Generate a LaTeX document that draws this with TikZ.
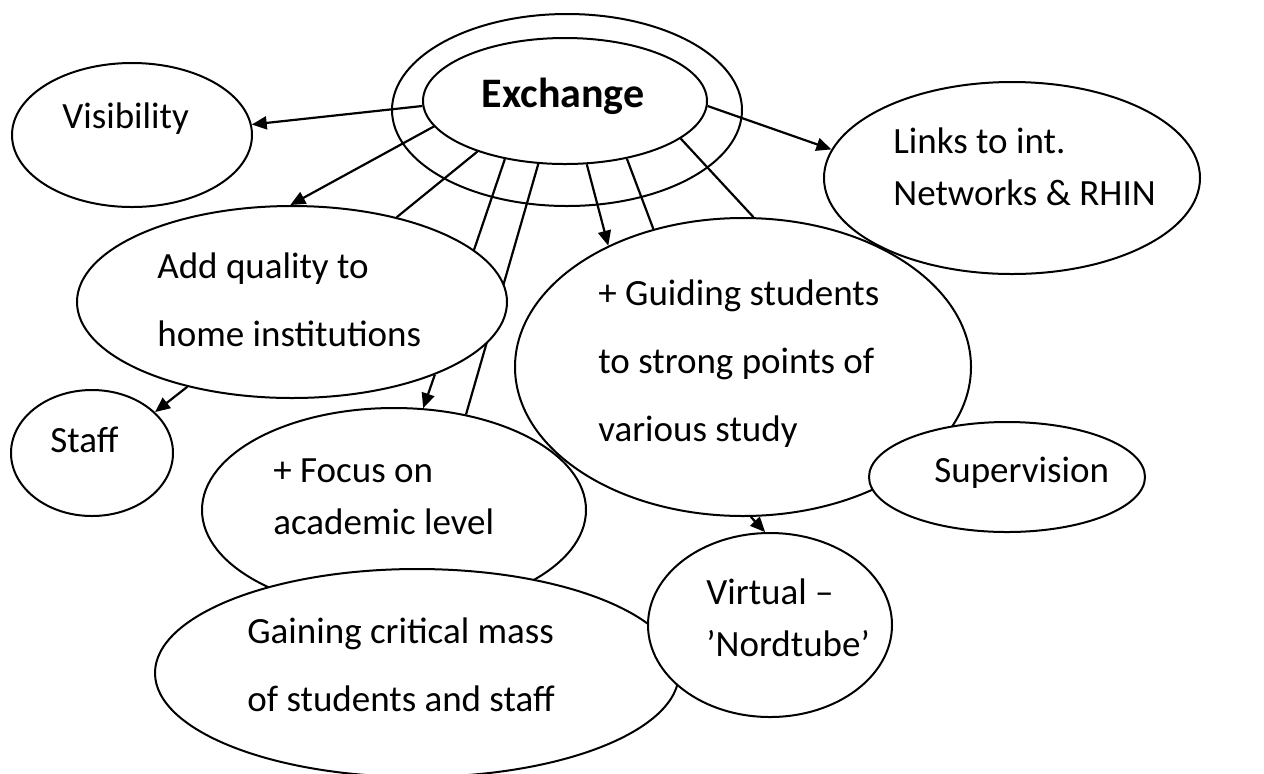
\documentclass[tikz,border=0pt]{standalone}
\usepackage{fontspec}
\setmainfont{Carlito}
\usetikzlibrary{shapes.geometric,arrows.meta}

\def\txtsize#1{\fontsize{18.5}{#1}\selectfont}

\tikzset{
  bubble/.style={ellipse, draw, line width=1pt, inner sep=0pt},
  txt/.style={inner sep=0pt, align=left, anchor=west},
  link/.style={line width=1.1pt},
  arr/.style={link, -{Triangle[length=7.5pt,width=6.5pt]}}
}

\begin{document}
\begin{tikzpicture}[x=0.5pt, y=-0.5pt]
\useasboundingbox (0,0) rectangle (1264,773);

% bubbles that are only outlined
\node[bubble, minimum width=188pt, minimum height=96pt] (links) at (1012,178) {};
\node[bubble, minimum width=120pt, minimum height=72pt] (vis) at (132,135) {};
\node[bubble, minimum width=81pt, minimum height=63pt] (staff) at (92,453) {};
\node[bubble, minimum width=175pt, minimum height=96pt] (ring) at (567,110) {};
\node[bubble, minimum width=142pt, minimum height=63pt] (exch) at (565,101) {};
\node[bubble, minimum width=192pt, minimum height=102pt] (focus) at (394,510) {};
\node[bubble, minimum width=228pt, minimum height=149pt] (guide) at (743,367) {};

% this one runs behind the quality bubble
\draw[link] (exch.247) -- (focus.53);

% bubbles that hide what lies below
\begin{scope}[fill=white]
  \node[bubble, fill, minimum width=215pt, minimum height=96pt] (add) at (292,302) {};
  \node[bubble, fill, minimum width=262pt, minimum height=104pt] (gain) at (417,673) {};
  \node[bubble, fill, minimum width=122pt, minimum height=92pt] (virt) at (770,625) {};
  \node[bubble, fill, minimum width=138pt, minimum height=55pt] (superv) at (1007,477) {};
\end{scope}

% texts
\node[inner sep=0pt, anchor=base, font=\bfseries\fontsize{21}{25}\selectfont] (exchtxt) at (563,107) {Exchange};
\begin{scope}[font=\txtsize{26}]
  \node[txt, anchor=base west] (vistxt) at (62,128) {Visibility};
  \node[txt] (linkstxt) at (893,167) {Links to int.\\Networks \& RHIN};
  \node[txt, anchor=base west] (stafftxt) at (50,452) {Staff};
  \node[txt] (focustxt) at (273,497) {+ Focus on\\academic level};
  \node[txt, anchor=base west] (supervtxt) at (934,482) {Supervision};
  \node[txt] (virttxt) at (706,618) {Virtual –\\’Nordtube’};
\end{scope}
\begin{scope}[font=\txtsize{34}]
  \node[txt] (addtxt) at (157,300) {Add quality to\\home institutions};
  \node[txt] (gaintxt) at (247,665) {Gaining critical mass\\of students and staff};
  \node[txt] (guidetxt) at (598,364) {+ Guiding students\\to strong points of\\various study};
\end{scope}

% connectors
\draw[arr] (exch.182) -- (vis.5);
\draw[arr] (exch.191) -- (add.91);
\draw[link] (exch.210) -- (add.39);
\draw[link] (exch.224) -- (add.16);
\draw[arr] (exch.289) -- (guide.138);
\draw[link] (exch.317) -- (guide.123);
\draw[link] (exch.342) -- (guide.86);
\draw[arr] (exch.358) -- (links.171);
\draw[arr] (add.219) -- (staff.33);
\draw[arr] (add.333) -- (focus.74);
\draw[arr] (guide.273) -- (virt.93);
\end{tikzpicture}
\end{document}
